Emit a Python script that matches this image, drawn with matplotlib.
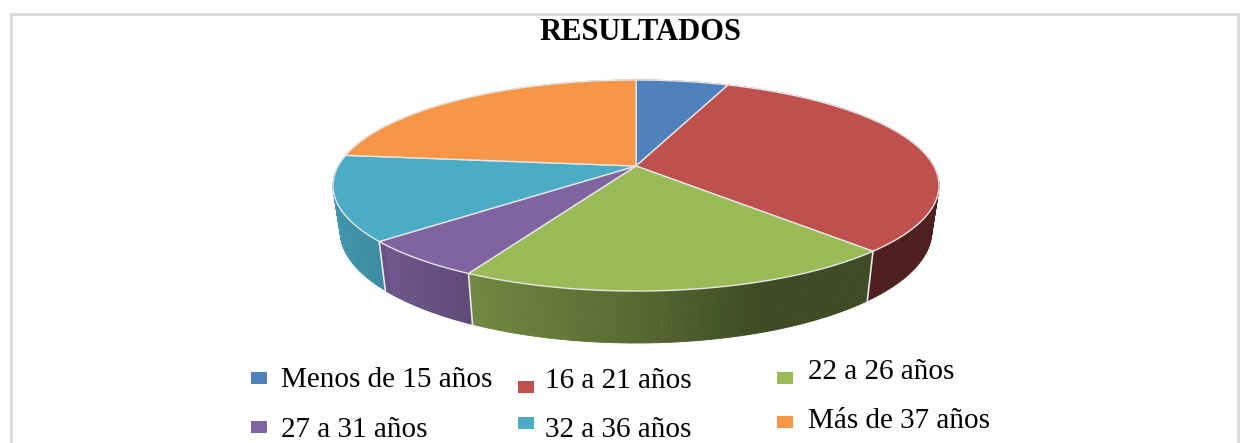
import matplotlib
matplotlib.use("Agg")
import matplotlib.pyplot as plt
import numpy as np
from matplotlib.patches import Rectangle

titulo = "RESULTADOS"
categorias = ["Menos de 15 años", "16 a 21 años", "22 a 26 años",
              "27 a 31 años", "32 a 36 años", "Más de 37 años"]
valores = [5.9, 32.0, 19.9, 5.9, 13.0, 23.3]
colores = ["#4F81BD", "#C0504D", "#9BBB59", "#8064A2", "#4BACC6", "#F79646"]

# legend layout in pixels: square x, square y, text x, baseline y
ley_x = [251, 518, 777, 251, 518, 777]
ley_y = [372, 381, 372, 421, 417, 416]
txt_x = [281, 545, 808, 281, 545, 808]
txt_y = [387, 388, 379, 437, 437, 428]

# pie geometry, the flat disc seen in perspective
cx, cy = 636, 166
a, b, k = 101.9, 297.8, 0.185

def top_xy(t):
    # t is clockwise from 12 o'clock
    u, v = np.sin(t), np.cos(t)
    w = 1 + k * v
    return cx + b * u / w, cy - a * v / w

def low_xy(x, y):
    return cx + (x - cx) * 0.976, 290 + (y - 241) * 1.06

def sombra(x):
    return np.interp(x, [333, 384, 385, 470, 640, 760, 940],
                     [0.87, 0.80, 0.87, 0.73, 0.56, 0.40, 0.40])

fig = plt.figure(figsize=(12.49, 4.43), dpi=100)
ax = fig.add_axes([0, 0, 1, 1])
ax.set_xlim(0, 1249)
ax.set_ylim(443, 0)
ax.axis("off")

# chart frame, open at the bottom
ax.plot([11, 11, 1238, 1238], [443, 14, 14, 443], color="#D9D9D9", lw=2,
        solid_joinstyle="miter")

cortes = np.concatenate([[0], np.cumsum(valores)]) / sum(valores) * 2 * np.pi

# side walls first, the disc covers the back part of them
for i, col in enumerate(colores):
    base = np.array(matplotlib.colors.to_rgb(col))
    t = np.linspace(cortes[i], cortes[i + 1], 90)
    x, y = top_xy(t)
    xl, yl = low_xy(x, y)
    for j in range(len(t) - 1):
        c = base * sombra((x[j] + x[j + 1]) / 2)
        ax.fill([x[j], x[j + 1], xl[j + 1], xl[j]],
                [y[j], y[j + 1], yl[j + 1], yl[j]],
                color=c, lw=0.6, zorder=2)

# white lines between the wall pieces
for t0 in cortes[:-1]:
    x0, y0 = top_xy(t0)
    if np.cos(t0) < 0:
        x1, y1 = low_xy(x0, y0)
        ax.plot([x0, x1], [y0, y1], color="#E8E8E8", lw=1.2, zorder=3)

# top of the disc
for i, col in enumerate(colores):
    t = np.linspace(cortes[i], cortes[i + 1], 120)
    x, y = top_xy(t)
    ax.fill(np.r_[cx, x], np.r_[cy, y], facecolor=col, edgecolor="#E6E6E6",
            lw=1.0, zorder=4, joinstyle="round")

ax.text(640, 32, titulo, family="Liberation Serif", weight="bold", fontsize=22,
        ha="center", va="center", color="black", zorder=6)

for i, nombre in enumerate(categorias):
    ax.add_patch(Rectangle((ley_x[i], ley_y[i]), 16, 12, facecolor=colores[i],
                           edgecolor="none", zorder=6))
    ax.text(txt_x[i], txt_y[i], nombre, family="Liberation Serif", fontsize=21,
            ha="left", va="baseline", color="black", zorder=6)

fig.savefig("out.png", dpi=100)
